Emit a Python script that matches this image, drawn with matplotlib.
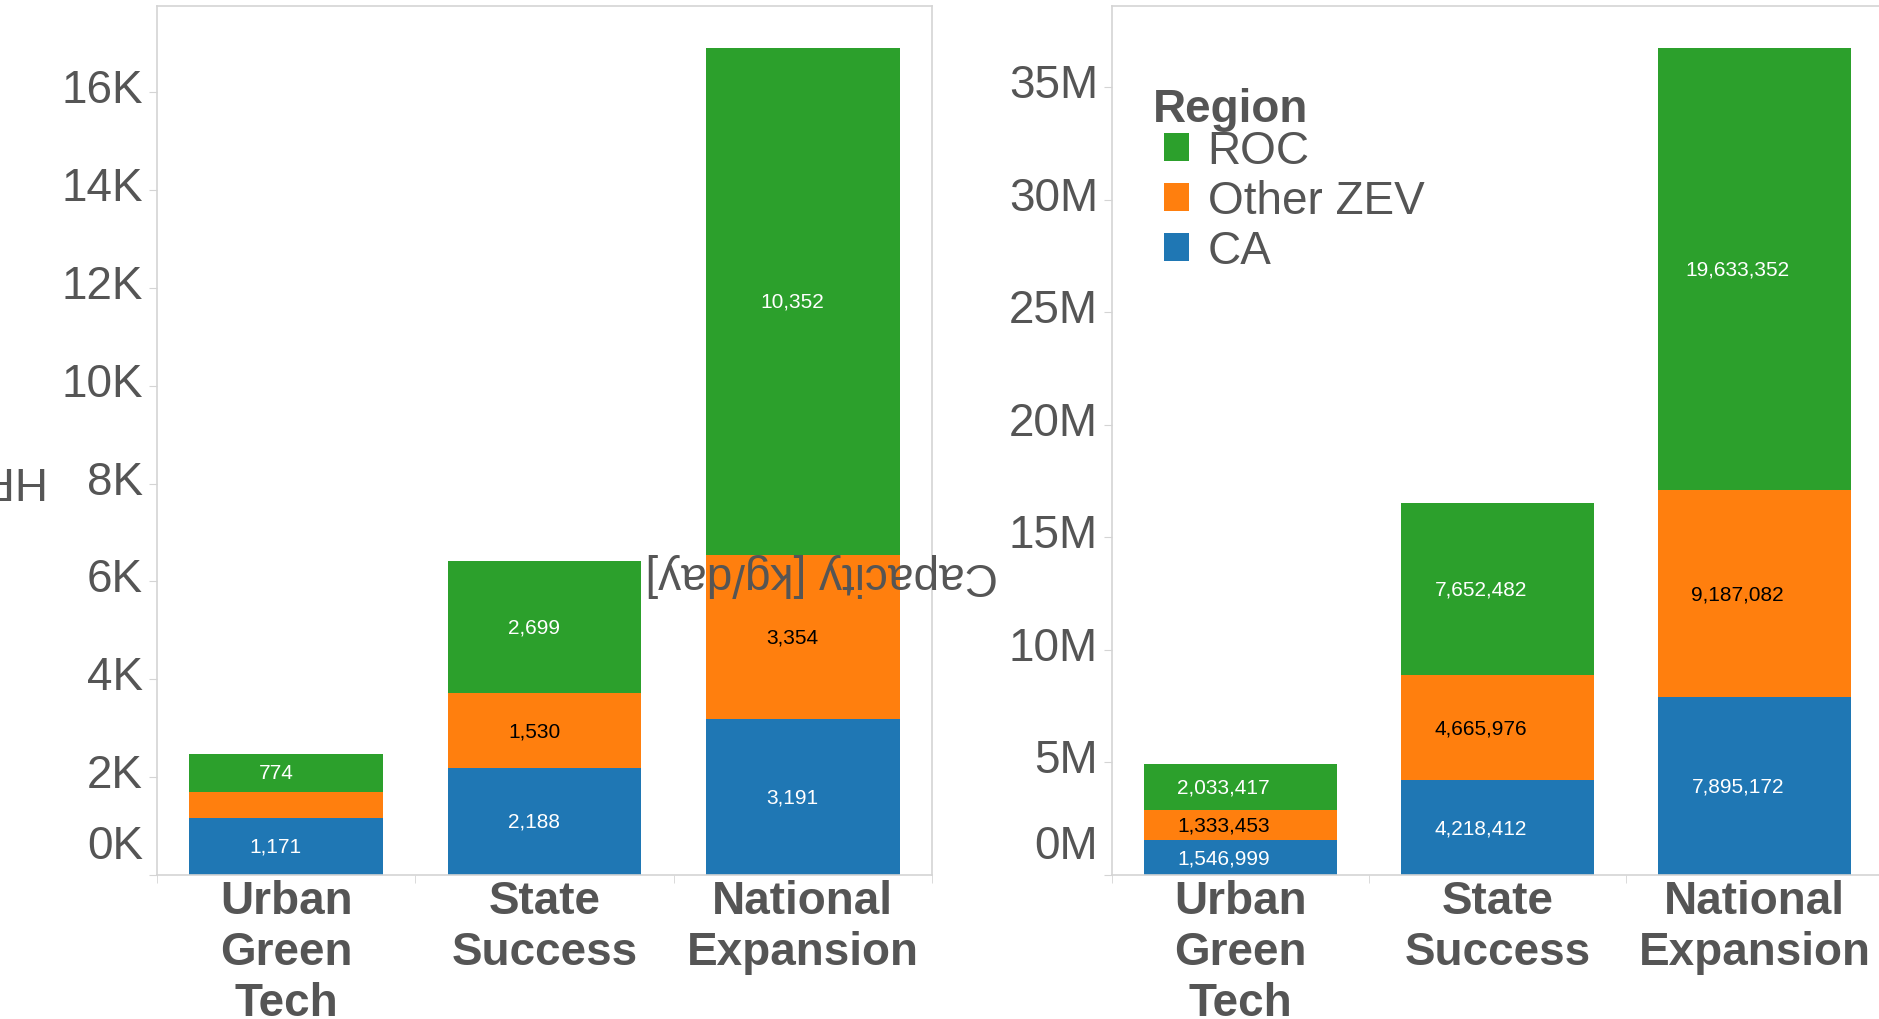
import matplotlib.pyplot as plt
from matplotlib.ticker import FuncFormatter
from matplotlib.transforms import ScaledTranslation

plt.rcParams['font.family'] = ['Liberation Sans', 'DejaVu Sans']

scenarios = ["Urban\nGreen\nTech", "State\nSuccess", "National\nExpansion"]
regions = ["CA", "Other ZEV", "ROC"]
colors = ["#1f77b4", "#ff7f0e", "#2ca02c"]
label_colors = ["white", "black", "white"]

# HRS counts per region (left) and capacity in kg/day (right)
hrs_ca = [1171, 2188, 3191]
hrs_other = [527, 1530, 3354]
hrs_roc = [774, 2699, 10352]
cap_ca = [1546999, 4218412, 7895172]
cap_other = [1333453, 4665976, 9187082]
cap_roc = [2033417, 7652482, 19633352]

left_ticks = [0, 2000, 4000, 6000, 8000, 10000, 12000, 14000, 16000]
right_ticks = [0, 5e6, 10e6, 15e6, 20e6, 25e6, 30e6, 35e6]

grey = "#555555"
line = "#d4d4d4"
fs = 33

fig = plt.figure(figsize=(18.79, 10.20), dpi=100)
ax1 = fig.add_axes([157 / 1879, 144 / 1020, 775 / 1879, 869 / 1020])
ax2 = fig.add_axes([1112 / 1879, 144 / 1020, 771 / 1879, 869 / 1020])


def draw(ax, series, ymax, ticks, fmt, xoff):
    x = list(range(len(scenarios)))
    bottom = [0] * len(scenarios)
    bars = []
    for vals, c, lc, name in zip(series, colors, label_colors, regions):
        b = ax.bar(x, vals, 0.75, bottom=bottom, color=c, label=name, zorder=2)
        bars.append(b)
        for i, v in enumerate(vals):
            if v >= 0.03 * ymax:
                ax.text(i + xoff, bottom[i] + v / 2, f"{v:,}", ha="center",
                        va="center", color=lc, fontsize=15, zorder=3)
        bottom = [b0 + v for b0, v in zip(bottom, vals)]
    ax.set_xlim(-0.5, 2.5)
    ax.set_ylim(0, ymax)
    ax.set_yticks(ticks)
    ax.yaxis.set_major_formatter(FuncFormatter(fmt))
    ax.set_xticks(x, scenarios, fontsize=fs, fontweight="bold", color=grey)
    ax.set_xticks([-0.5, 0.5, 1.5, 2.5], minor=True)
    ax.tick_params(axis="x", which="major", length=0, pad=3)
    ax.tick_params(axis="x", which="minor", length=6, color=line)
    ax.tick_params(axis="y", length=6, color=line, labelsize=fs,
                   labelcolor=grey, pad=4)
    for s in ax.spines.values():
        s.set_color(line)
        s.set_linewidth(1.2)
    fig.canvas.draw()
    up = ScaledTranslation(0, 0.07, fig.dpi_scale_trans)
    labels = ax.get_yticklabels()
    labels[0].set_verticalalignment("bottom")
    for t in labels:
        t.set_transform(t.get_transform() + up)
    return bars


draw(ax1, [hrs_ca, hrs_other, hrs_roc], 17760, left_ticks,
     lambda v, p: f"{v / 1000:.0f}K", -0.04)
bars = draw(ax2, [cap_ca, cap_other, cap_roc], 38.6e6, right_ticks,
            lambda v, p: f"{v / 1e6:.0f}M", -0.065)

leg = ax2.legend(handles=bars[::-1], loc="upper left",
                 bbox_to_anchor=(0.0674, 0.858), frameon=False, fontsize=fs,
                 labelspacing=0.13, handlelength=0.55, handleheight=0.55,
                 handletextpad=0.4, borderpad=0, borderaxespad=0)
for t in leg.get_texts():
    t.set_color(grey)
ax2.text(0.053, 0.8677, "Region", transform=ax2.transAxes, ha="left",
         va="baseline", fontsize=fs, fontweight="bold", color=grey)

fig.text(48 / 1879, 1 - 479 / 1020, "HRS Count", rotation=180, ha="right",
         va="center", fontsize=fs, color=grey)
fig.text(822 / 1879, 1 - 575 / 1020, "Capacity [kg/day]", rotation=180,
         ha="center", va="center", fontsize=fs, color=grey)

fig.savefig("out.png", dpi=100)
